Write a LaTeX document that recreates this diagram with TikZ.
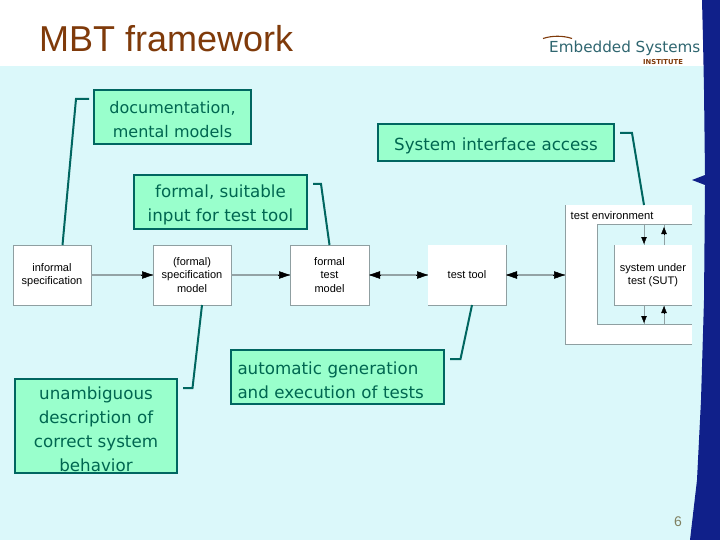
\documentclass[tikz,border=0pt]{standalone}
\usepackage{fontspec}
\setmainfont{Liberation Sans}
\newfontfamily\callfont{DejaVu Sans}
\usetikzlibrary{arrows.meta}
\definecolor{slidebg}{HTML}{DBF8FA}
\definecolor{slideblue}{HTML}{10208A}
\definecolor{callfill}{HTML}{99FFCC}
\definecolor{calledge}{HTML}{006660}
\definecolor{calltext}{HTML}{006650}
\definecolor{titlebrown}{HTML}{7F3A0A}
\definecolor{boxedge}{HTML}{8F9FA1}
\definecolor{flowgray}{HTML}{93A3A5}
\definecolor{logoteal}{HTML}{2F6670}
\definecolor{pagegray}{HTML}{808060}
\newcommand\toppad{\rule{0pt}{19pt}}
\tikzset{
  callout/.style={draw=calledge,line width=2pt,fill=callfill,text=calltext,inner sep=0pt,outer sep=0pt,
    align=center,font=\callfont\fontsize{16.7}{24}\selectfont},
  leader/.style={draw=calledge,line width=2pt},
  whitebox/.style={draw=boxedge,line width=0.8pt,fill=white,inner sep=0pt,outer sep=0pt,
    minimum width=78pt,minimum height=60pt,align=center,font=\fontsize{11}{13.5}\selectfont},
  plainbox/.style={whitebox,draw=none},
  edgeline/.style={draw=boxedge,line width=0.8pt},
  flow/.style={draw=flowgray,line width=1.6pt},
  sutline/.style={draw=boxedge,line width=0.6pt},
  bigtip/.style={draw=black,line width=0.5pt,-{Triangle[length=11pt,width=7.5pt]}},
  smalltip/.style={draw=black,line width=0.4pt,-{Triangle[length=7pt,width=5.5pt]}},
}
\begin{document}
\begin{tikzpicture}[x=1pt,y=-1pt]
\useasboundingbox (0,0) rectangle (720,540);
\fill[white] (0,0) rectangle (720,540);
\fill[slidebg] (0,66) rectangle (720,540);
\fill[slideblue] (702,0) -- (720,0) -- (720,540) -- (690,540) -- (697,480) -- (701,400) -- (704,300) -- (705,185) -- (692,180) -- (705,175) -- (704,90) -- (703,40) -- cycle;

\node[anchor=base west,text=titlebrown,font=\fontsize{36}{40}\selectfont,inner sep=0pt] (title) at (39,52) {MBT framework};
\node[anchor=base west,text=logoteal,font=\callfont\fontsize{15.2}{18}\selectfont,inner sep=0pt] (logo) at (549,52.5) {Embedded Systems};
\node[anchor=base west,text=titlebrown,font=\callfont\bfseries\fontsize{6.8}{8}\selectfont,inner sep=0pt] (inst) at (643,65) {INSTITUTE};
\draw[titlebrown,line width=1.1pt] (543,38.5) .. controls (552,35.5) and (563,35.5) .. (572,38.5);

% test environment
\fill[white] (565,205) rectangle (692,344);
\fill[slidebg] (597,224) rectangle (692,324);
\draw[edgeline] (692,344) -- (565,344) -- (565,205);
\draw[edgeline] (692,224) -- (597,224) -- (597,324) -- (692,324);
\coordinate (env) at (565,275);
\node[anchor=base west,inner sep=0pt,font=\fontsize{11.2}{13}\selectfont] (envlabel) at (570.5,219.5) {test environment};

\node[whitebox] (inf) at (52,275) {informal\\specification};
\node[whitebox] (spec) at (192,275) {(formal)\\specification\\model};
\node[whitebox,minimum width=79pt] (ftm) at (329.5,275) {formal\\test\\model};
\node[plainbox] (tool) at (467,275) {test tool};
\draw[edgeline] (tool.north east) -- (tool.south east) -- (tool.south west);
\node[plainbox] (sut) at (653,275) {system under\\test (SUT)};
\draw[edgeline] (sut.north west) -- (sut.south west) -- (sut.south east);

\coordinate (envtopa) at (644,224);
\coordinate (envtopb) at (664,224);
\coordinate (envbota) at (644,324);
\coordinate (envbotb) at (664,324);
\draw[flow] (inf) -- (spec);
\draw[flow] (spec) -- (ftm);
\draw[flow] (ftm) -- (tool);
\draw[flow] (tool) -- (env);
\draw[bigtip] ([xshift=-12]spec.west) -- (spec.west);
\draw[bigtip] ([xshift=-12]ftm.west) -- (ftm.west);
\draw[bigtip] ([xshift=12]ftm.east) -- (ftm.east);
\draw[bigtip] ([xshift=-12]tool.west) -- (tool.west);
\draw[bigtip] ([xshift=12]tool.east) -- (tool.east);
\draw[bigtip] ([xshift=-12]env) -- (env);
\draw[sutline] (envtopa) -- (envtopa |- sut.north);
\draw[sutline] (envtopb |- sut.north) -- (envtopb);
\draw[sutline] (envbota |- sut.south) -- (envbota);
\draw[sutline] (envbotb) -- (envbotb |- sut.south);
\draw[smalltip] ([yshift=8]envtopa |- sut.north) -- ([yshift=1]envtopa |- sut.north);
\draw[smalltip] ([yshift=-11]envtopb) -- ([yshift=-3]envtopb);
\draw[smalltip] ([yshift=8]envbota) -- ([yshift=1]envbota);
\draw[smalltip] ([yshift=-8]envbotb |- sut.south) -- ([yshift=-1]envbotb |- sut.south);

% callouts
\node[callout,minimum width=157pt,minimum height=54pt,font=\callfont\fontsize{16}{24}\selectfont] (doc) at (172.5,117) {\rule{0pt}{17pt}documentation,\\mental models};
\node[callout,minimum width=173pt,minimum height=54pt] (suit) at (220.5,202) {\toppad formal, suitable\\input for test tool};
\node[callout,minimum width=236pt,minimum height=37pt] (sys) at (496,142.5) {\toppad System interface access};
\node[callout,minimum width=162pt,minimum height=94pt] (amb) at (96,426) {\toppad unambiguous\\description of\\correct system\\behavior};
\node[callout,minimum width=213.5pt,minimum height=54pt,text width=199.5pt,align=left] (auto) at (337.25,377) {\toppad automatic generation\\and execution of tests};

\draw[leader] ([shift={(-5,9)}]doc.north west) -- ++(-13,0) -- ([xshift=10.5]inf.north);
\draw[leader] ([shift={(6,9)}]suit.north east) -- ++(8,0) -- (ftm.north);
\draw[leader] ([shift={(6,9)}]sys.north east) -- ++(12,0) -- (envtopa |- 0,205);
\draw[leader] ([shift={(6,9)}]amb.north east) -- ++(9.5,0) -- ([xshift=10]spec.south);
\draw[leader] ([shift={(6,9)}]auto.north east) -- ++(10.5,0) -- ([xshift=5]tool.south);

\node[text=pagegray,anchor=base,inner sep=0pt,font=\fontsize{14}{16}\selectfont] (page) at (678,526) {6};
\end{tikzpicture}
\end{document}
